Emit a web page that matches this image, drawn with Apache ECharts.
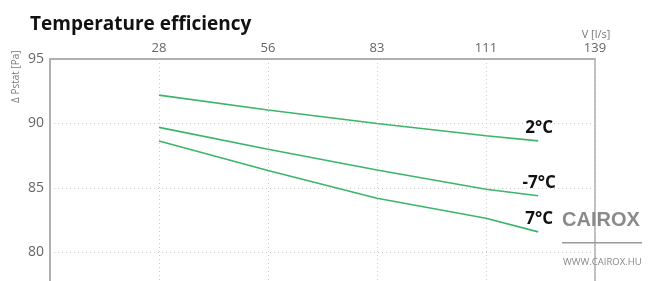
<!DOCTYPE html>
<html>
<head>
<meta charset="utf-8">
<script src="https://cdn.jsdelivr.net/npm/echarts@6/dist/echarts.min.js"></script>
<style>
  html, body { margin: 0; padding: 0; background: #fff; }
  #chart { width: 652px; height: 281px; }
</style>
</head>
<body>
<div id="chart"></div>
<script>
// flow rate V [l/s]
const flows = [27.8, 55.6, 83.4, 111.2, 124.5]
// pressure values per temperature curve
const temp2 = [92.2, 91.05, 90.0, 89.05, 88.65]
const tempMinus7 = [89.7, 88.0, 86.4, 84.9, 84.4]
const temp7 = [88.65, 86.35, 84.2, 82.65, 81.6]
const seriesNames = ['2°C', '-7°C', '7°C']
const yTicks = [75, 80, 85, 90, 95]

const green = '#3cb56a'
const chart = echarts.init(document.getElementById('chart'))

function makeSeries(name, values) {
  return {
    name: name,
    type: 'line',
    data: values.map((v, i) => {
      const p = { value: [flows[i], v] }
      if (i === values.length - 1) {
        p.label = {
          show: true,
          formatter: name,
          position: 'top',
          distance: 4,
          offset: [1, 0],
          color: '#111',
          fontSize: 17,
          fontWeight: 'bold',
          fontFamily: 'Open Sans'
        }
      }
      return p
    }),
    showSymbol: true,
    symbol: 'circle',
    symbolSize: 0,
    lineStyle: { color: green, width: 1.6 },
    itemStyle: { color: green },
    label: { show: false },
    silent: true
  }
}

const option = {
  animation: false,
  backgroundColor: '#fff',
  title: {
    text: 'Temperature efficiency',
    left: 25,
    top: 10,
    textStyle: { fontFamily: 'Open Sans', fontSize: 19, fontWeight: 'bold', color: '#111' }
  },
  grid: {
    left: 50,
    top: 59,
    width: 545,
    height: 258,
    containLabel: false,
    outerBoundsMode: 'none',
    show: true,
    borderColor: '#aaa',
    borderWidth: 1.5,
    backgroundColor: 'transparent'
  },
  xAxis: {
    type: 'value',
    position: 'top',
    min: 0,
    max: 139,
    interval: 27.8,
    axisLine: { show: true, lineStyle: { color: '#aaa', width: 1.5 } },
    axisTick: { show: false },
    axisLabel: {
      color: '#666',
      fontSize: 13,
      fontFamily: 'Open Sans',
      margin: 4,
      showMinLabel: false,
      formatter: v => v > 1 ? String(Math.round(v)) : ''
    },
    splitLine: { show: true, lineStyle: { color: '#ccc', type: [1, 3], width: 1 } }
  },
  yAxis: {
    type: 'value',
    min: yTicks[0],
    max: yTicks[yTicks.length - 1],
    interval: 5,
    axisLine: { show: true, lineStyle: { color: '#aaa', width: 1.5 } },
    axisTick: { show: false },
    axisLabel: { color: '#666', fontSize: 14, fontFamily: 'Open Sans', margin: 6 },
    splitLine: { show: true, lineStyle: { color: '#ccc', type: [1, 3], width: 1 } }
  },
  graphic: [
    {
      type: 'text',
      x: 11,
      y: 103,
      rotation: Math.PI / 2,
      style: { text: 'Δ Pstat [Pa]', fill: '#777', font: '10px "Open Sans"', align: 'left', verticalAlign: 'top' }
    },
    {
      type: 'text',
      x: 596,
      y: 35,
      style: { text: 'V [l/s]', fill: '#777', font: '11px "Open Sans"', align: 'center', verticalAlign: 'middle' }
    },
    {
      type: 'text',
      left: 562,
      top: 210,
      style: { text: 'CAIROX', fill: '#8a8a8a', font: 'bold 20px "Liberation Sans"' },
      z: 10
    },
    {
      type: 'rect',
      shape: { x: 562, y: 242, width: 80, height: 1.5 },
      style: { fill: '#999' },
      z: 10
    },
    {
      type: 'text',
      left: 563,
      top: 257,
      style: { text: 'WWW.CAIROX.HU', fill: '#888', font: '9.5px "Open Sans"' },
      z: 10
    }
  ],
  series: [
    makeSeries(seriesNames[0], temp2),
    makeSeries(seriesNames[1], tempMinus7),
    makeSeries(seriesNames[2], temp7)
  ]
}

chart.setOption(option)
</script>
</body>
</html>
